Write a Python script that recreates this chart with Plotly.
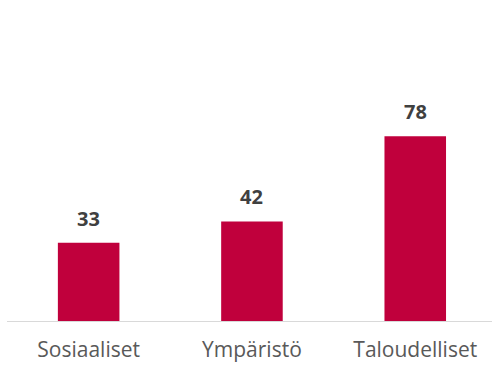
import plotly.graph_objects as go

categories = ["Sosiaaliset", "Ympäristö", "Taloudelliset"]
values = [33, 42, 78]

bar_color = "#C0003C"

fig = go.Figure(
    go.Bar(
        x=categories,
        y=values,
        width=0.377,
        marker=dict(color=bar_color, line=dict(width=0)),
        hoverinfo="skip",
    )
)

# value labels above each bar
for c, v in zip(categories, values):
    fig.add_annotation(
        x=c, y=v, text=f"<b>{v}</b>", showarrow=False,
        yanchor="bottom", yshift=9,
        font=dict(family="Open Sans", size=20, color="#404040"),
    )

fig.update_layout(
    width=492, height=365,
    margin=dict(l=7, r=0, t=84, b=44),
    paper_bgcolor="white", plot_bgcolor="white",
    showlegend=False,
    xaxis=dict(
        range=[-0.5, 2.47],
        showline=True, linecolor="#d9d9d9", linewidth=1,
        showgrid=False, ticks="", ticklabelstandoff=10,
        tickfont=dict(family="Open Sans", size=21, color="#595959"),
    ),
    yaxis=dict(range=[0, 100], visible=False, showgrid=False, zeroline=False),
)

fig.write_html("out.html")
